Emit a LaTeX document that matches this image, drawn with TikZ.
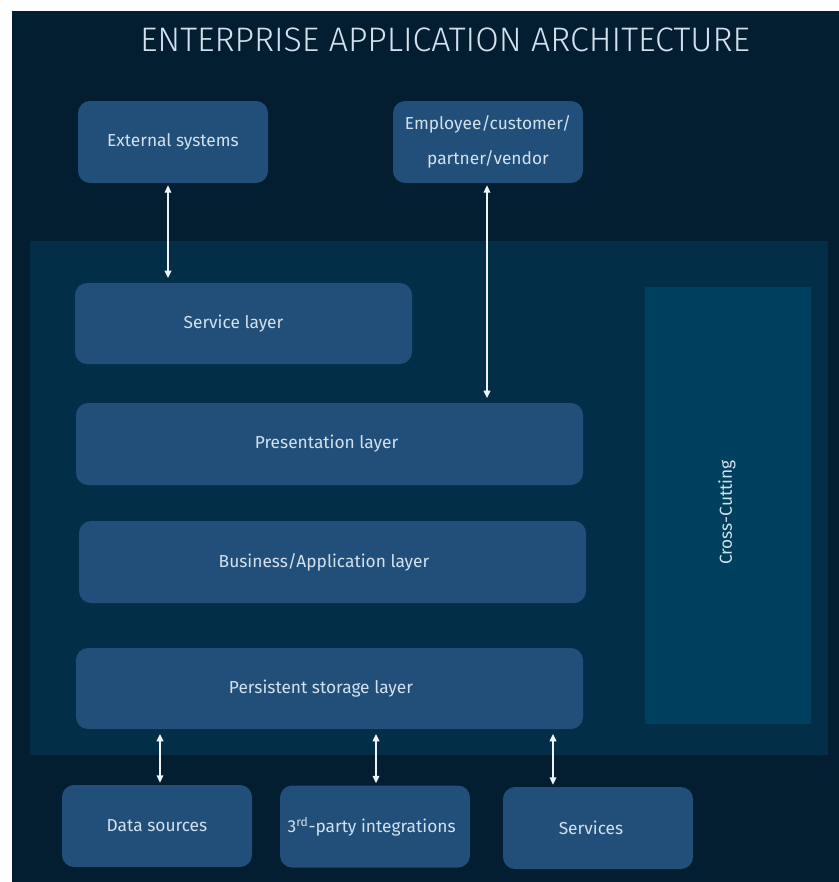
\documentclass[tikz,border=0pt]{standalone}
\usepackage{fontspec}
\setmainfont{Fira Sans}
\newfontfamily\titlefont{Fira Sans Light}
\usetikzlibrary{arrows.meta}

\definecolor{pagebg}{HTML}{021E30}
\definecolor{panelbg}{HTML}{022F47}
\definecolor{boxfill}{HTML}{214F79}
\definecolor{crossfill}{HTML}{00405F}
\definecolor{labeltext}{HTML}{D3E1EE}
\definecolor{arrowcol}{HTML}{EEF3F8}

% labels sit a little left of their box centres
\newcommand{\leftpad}[1]{\hspace*{#1}}

\tikzset{
  layerbox/.style={fill=boxfill, rounded corners=9pt, inner sep=0pt,
    text=labeltext, font=\fontsize{13}{15}\selectfont, align=center},
  arr/.style={draw=arrowcol, line width=0.9pt,
    {Triangle[width=5pt,length=5.5pt]}-{Triangle[width=5pt,length=5.5pt]},
    shorten <=1.5pt, shorten >=3.5pt},
}

\begin{document}
\begin{tikzpicture}[x=0.75pt,y=-0.75pt]
  \useasboundingbox (0,0) rectangle (839,882);
  % backdrop and the inner application panel
  \fill[pagebg] (12,11) rectangle (839,882);
  \fill[panelbg] (30,241) rectangle (828,755);

  % title
  \node[text=labeltext, font=\titlefont\fontsize{25.5}{30}\selectfont] (title) at (445,40)
    {ENTERPRISE APPLICATION ARCHITECTURE};

  % actors above the panel
  \node[layerbox, minimum width=142.5pt, minimum height=61.5pt] (ext) at (173,142) {External systems};
  \node[layerbox, minimum width=142.5pt, minimum height=61.5pt,
        font=\fontsize{13}{26}\selectfont] (emp) at (488,142) {Employee/customer/\\partner/vendor};

  % layers
  \node[layerbox, minimum width=252.75pt, minimum height=60.75pt] (svc) at (243.5,323.5) {Service layer\leftpad{15pt}};
  \node[layerbox, minimum width=380.25pt, minimum height=61.5pt] (pres) at (329.5,444) {Presentation layer\leftpad{4.5pt}};
  \node[layerbox, minimum width=380.25pt, minimum height=61.5pt] (bus) at (332.5,562) {Business/Application layer\leftpad{12.75pt}};
  \node[layerbox, minimum width=380.25pt, minimum height=60.75pt] (pers) at (329.5,688.5) {Persistent storage layer\leftpad{12.75pt}};

  % cross-cutting concerns column
  \node[fill=crossfill, minimum width=124.5pt, minimum height=327.75pt, inner sep=0pt] (cross) at (728,505.5) {};
  \node[text=labeltext, font=\fontsize{13}{15}\selectfont, rotate=90] (crosslbl) at (727,512.5) {Cross-Cutting};

  % back-end systems
  \node[layerbox, minimum width=142.5pt, minimum height=61.5pt] (ds) at (157,826) {Data sources};
  \node[layerbox, minimum width=142.5pt, minimum height=61.5pt] (tp) at (375,826.5) {3\textsuperscript{rd}-party integrations\leftpad{5pt}};
  \node[layerbox, minimum width=142.5pt, minimum height=61.5pt] (srv) at (598,828) {Services\leftpad{10.5pt}};

  % connectors
  \draw[arr] ([xshift=-3.75pt]ext.south) -- ([xshift=-3.75pt]ext.south |- svc.north);
  \draw[arr] ([xshift=-0.75pt]emp.south) -- ([xshift=-0.75pt]emp.south |- pres.north);
  \draw[arr] ([xshift=2.25pt]ds.north) -- ([xshift=2.25pt]ds.north |- pers.south);
  \draw[arr] ([xshift=0.75pt]tp.north) -- ([xshift=0.75pt]tp.north |- pers.south);
  \draw[arr] ([xshift=-33.75pt]srv.north) -- ([xshift=-33.75pt]srv.north |- pers.south);
\end{tikzpicture}
\end{document}
